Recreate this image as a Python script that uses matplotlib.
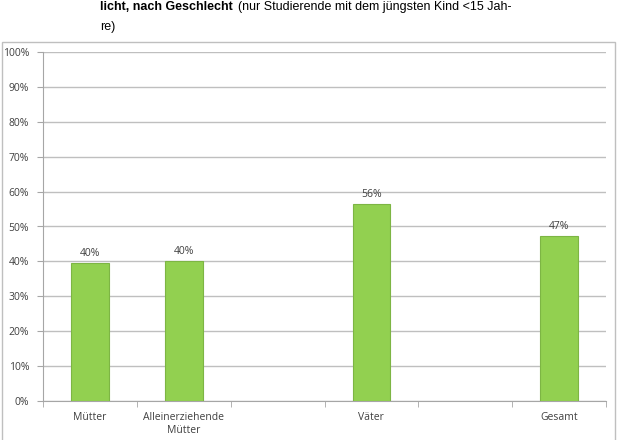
import matplotlib
matplotlib.use("Agg")
import matplotlib.pyplot as plt
from matplotlib.patches import Rectangle
from matplotlib.ticker import FixedLocator, NullFormatter
from matplotlib import font_manager

categories = ["Mütter", "Alleinerziehende\nMütter", "", "Väter", "", "Gesamt"]
values = [39.6, 40.2, None, 56.4, None, 47.3]
labels = ["40%", "40%", "", "56%", "", "47%"]
yticks = [0, 10, 20, 30, 40, 50, 60, 70, 80, 90, 100]

names = {f.name for f in font_manager.fontManager.ttflist}
if "Liberation Sans Narrow" in names:
    tfam, tsize = "Liberation Sans Narrow", 11.5
else:
    tfam, tsize = "Liberation Sans", 9.0

fig = plt.figure(figsize=(6.18, 4.40), dpi=100)
W, H = 618, 440

# chart frame
fig.patches.append(Rectangle((2 / W, -0.05), 613 / W, (440 - 42) / H + 0.05,
                             transform=fig.transFigure, fill=False,
                             edgecolor="#BFBFBF", linewidth=1.0))

# title lines
t1 = fig.text(100 / W, 1 - 10 / H, "licht, nach Geschlecht", fontsize=tsize,
              fontweight="bold", family=tfam, va="baseline", ha="left")
fig.canvas.draw()
bb = t1.get_window_extent()
fig.text((bb.x1 + 5) / W, 1 - 10 / H, "(nur Studierende mit dem jüngsten Kind <15 Jah-",
         fontsize=tsize, family=tfam, va="baseline", ha="left")
fig.text(100 / W, 1 - 30 / H, "re)", fontsize=tsize, family=tfam,
         va="baseline", ha="left")

ax = fig.add_axes([43 / W, 39 / H, (606 - 43) / W, (401 - 52) / H])
x = list(range(len(categories)))
for xi, v, lab in zip(x, values, labels):
    if v is None:
        continue
    ax.bar(xi, v, width=0.4, color="#92D050", edgecolor="#7DB544", linewidth=0.8, zorder=3)
    ax.text(xi, v + 1.2, lab, ha="center", va="bottom", fontsize=7.5,
            family="Open Sans", color="#404040")

ax.set_xlim(-0.5, len(categories) - 0.5)
ax.set_ylim(0, 100)
ax.set_yticks(yticks)
ax.set_yticklabels([f"{t}%" for t in yticks], fontsize=7.5, family="Open Sans", color="#404040")
ax.yaxis.grid(True, color="#BFBFBF", linewidth=1.0, zorder=0)
ax.set_axisbelow(True)

ax.set_xticks(x)
ax.set_xticklabels(categories, fontsize=7.5, family="Open Sans", color="#404040")
ax.tick_params(axis="x", which="major", length=0, pad=8)
ax.xaxis.set_minor_locator(FixedLocator([i - 0.5 for i in range(len(categories) + 1)]))
ax.xaxis.set_minor_formatter(NullFormatter())
ax.tick_params(axis="x", which="minor", length=4, color="#A6A6A6")
ax.tick_params(axis="y", length=4, color="#A6A6A6", pad=6)

for s in ["top", "right"]:
    ax.spines[s].set_visible(False)
ax.spines["left"].set_color("#A6A6A6")
ax.spines["bottom"].set_color("#A6A6A6")

fig.savefig("out.png", dpi=100)
